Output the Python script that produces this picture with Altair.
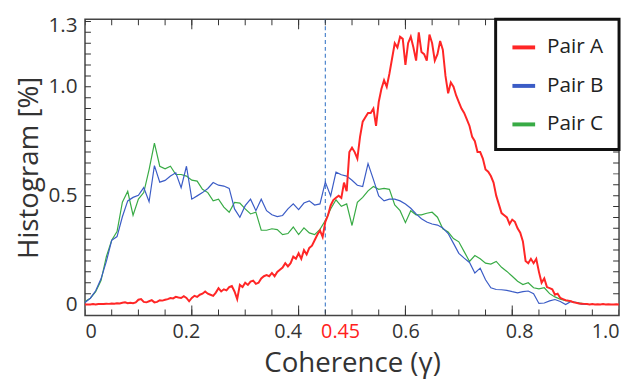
import altair as alt
import pandas as pd
import numpy as np

# ---------------- data ----------------
series = ["Pair A", "Pair B", "Pair C"]
colors = ["#ff2626", "#3b5cc6", "#38ab45"]

# Pair B and Pair C sampled every 0.01 in coherence (0 .. 1.0)
bc_step = 0.01
pair_b = [
    0.009, 0.029, 0.063, 0.118, 0.198, 0.295, 0.312, 0.403, 0.476, 0.492,
    0.502, 0.537, 0.472, 0.638, 0.562, 0.570, 0.590, 0.605, 0.537, 0.635,
    0.484, 0.499, 0.514, 0.533, 0.560, 0.548, 0.544, 0.533, 0.439, 0.401,
    0.454, 0.484, 0.431, 0.484, 0.431, 0.412, 0.404, 0.409, 0.439, 0.462,
    0.436, 0.466, 0.476, 0.457, 0.462, 0.562, 0.499, 0.608, 0.596, 0.590,
    0.571, 0.548, 0.542, 0.647, 0.575, 0.499, 0.476, 0.484, 0.484, 0.476,
    0.462, 0.442, 0.416, 0.394, 0.379, 0.370, 0.365, 0.352, 0.326, 0.281,
    0.235, 0.213, 0.193, 0.145, 0.167, 0.114, 0.077, 0.069, 0.068, 0.065,
    0.059, 0.054, 0.059, 0.062, 0.050, 0.005, 0.007, 0.017, 0.023, 0.014,
    0.000, 0.014, 0.009, 0.002, 0.000, 0.000, 0.000, 0.000, 0.000, 0.000, 0.000,
]
pair_c = [
    0.014, 0.029, 0.059, 0.110, 0.220, 0.295, 0.335, 0.470, 0.520, 0.410,
    0.484, 0.514, 0.620, 0.741, 0.635, 0.623, 0.635, 0.597, 0.597, 0.590,
    0.571, 0.567, 0.529, 0.514, 0.476, 0.484, 0.447, 0.424, 0.469, 0.466,
    0.439, 0.416, 0.424, 0.341, 0.341, 0.348, 0.344, 0.321, 0.326, 0.356,
    0.321, 0.352, 0.329, 0.321, 0.345, 0.386, 0.439, 0.481, 0.451, 0.462,
    0.363, 0.469, 0.492, 0.522, 0.542, 0.529, 0.533, 0.529, 0.457, 0.431,
    0.376, 0.431, 0.412, 0.412, 0.419, 0.424, 0.401, 0.348, 0.333, 0.303,
    0.288, 0.243, 0.198, 0.225, 0.210, 0.190, 0.186, 0.198, 0.171, 0.152,
    0.130, 0.107, 0.092, 0.100, 0.077, 0.072, 0.077, 0.050, 0.035, 0.024,
    0.018, 0.014, 0.009, 0.005, 0.000, 0.000, 0.000, 0.000, 0.000, 0.000, 0.000,
]

# Pair A sampled every 0.005 in coherence (0 .. 1.0)
a_step = 0.005
pair_a = [
    0.0, 0.0, 0.0, 0.002, 0.0, 0.002, 0.003, 0.002, 0.004, 0.003,
    0.005, 0.004, 0.006, 0.005, 0.008, 0.01, 0.006, 0.008, 0.006, 0.01,
    0.022, 0.025, 0.012, 0.01, 0.015, 0.02, 0.01, 0.012, 0.02, 0.018,
    0.022, 0.025, 0.03, 0.028, 0.035, 0.032, 0.03, 0.038, 0.03, 0.015,
    0.03, 0.04, 0.035, 0.045, 0.05, 0.06, 0.05, 0.045, 0.04, 0.055,
    0.075, 0.06, 0.07, 0.065, 0.08, 0.085, 0.06, 0.025, 0.09, 0.08,
    0.1, 0.09, 0.105, 0.11, 0.095, 0.1, 0.12, 0.13, 0.135, 0.13,
    0.145, 0.13, 0.15, 0.16, 0.17, 0.19, 0.175, 0.19, 0.22, 0.21,
    0.235, 0.21, 0.25, 0.23, 0.26, 0.27, 0.295, 0.32, 0.34, 0.31,
    0.38, 0.41, 0.455, 0.48, 0.49, 0.5, 0.49, 0.56, 0.52, 0.7,
    0.72, 0.7, 0.67, 0.77, 0.84, 0.86, 0.88, 0.88, 0.9, 0.82,
    0.93, 0.99, 1.03, 1.0, 1.06, 1.13, 1.2, 1.18, 1.23, 1.22,
    1.1, 1.2, 1.23, 1.18, 1.12, 1.25, 1.16, 1.15, 1.12, 1.24,
    1.2, 1.12, 1.15, 1.21, 1.17, 1.05, 0.97, 1.02, 1.0, 0.96,
    0.93, 0.9, 0.88, 0.85, 0.82, 0.77, 0.75, 0.7, 0.7, 0.67,
    0.62, 0.61, 0.59, 0.56, 0.5, 0.46, 0.42, 0.41, 0.4, 0.37,
    0.39, 0.38, 0.35, 0.33, 0.29, 0.2, 0.19, 0.21, 0.19, 0.21,
    0.15, 0.1, 0.12, 0.08, 0.075, 0.07, 0.045, 0.05, 0.03, 0.025,
    0.02, 0.018, 0.015, 0.01, 0.008, 0.005, 0.004, 0.003, 0.002, 0.0,
    0.002, 0.0, 0.001, 0.0, 0.002, 0.0, 0.001, 0.0, 0.0, 0.001, 0.0,
]

threshold = [0.45]
x_label_values = [0, 0.2, 0.4, 0.45, 0.6, 0.8, 1.0]
y_label_values = [0, 0.5, 1.0, 1.3]
x_minor_ticks = [round(i * 0.05, 2) for i in range(21)]
x_major_ticks = [0.2, 0.4, 0.6, 0.8]
y_minor_ticks = [round(i * 0.05, 2) for i in range(27)]

# ---------------- tables ----------------
df_a = pd.DataFrame({"x": np.round(np.arange(len(pair_a)) * a_step, 4), "y": pair_a, "series": "Pair A"})
df_b = pd.DataFrame({"x": np.round(np.arange(len(pair_b)) * bc_step, 4), "y": pair_b, "series": "Pair B"})
df_c = pd.DataFrame({"x": np.round(np.arange(len(pair_c)) * bc_step, 4), "y": pair_c, "series": "Pair C"})
df_bc = pd.concat([df_c, df_b], ignore_index=True)
df_thr = pd.DataFrame({"x": threshold})
df_xminor = pd.DataFrame({"v": x_minor_ticks})
df_xmajor = pd.DataFrame({"v": x_major_ticks})
df_yminor = pd.DataFrame({"v": y_minor_ticks})

W, H = 541, 300
TICK, TICK_MAJOR = 6, 10
FONT = "Open Sans"
TXT = "#333333"
TICK_COLOR = "#333333"

xs = alt.Scale(domain=[0, 1.0], nice=False, zero=False)
ys = alt.Scale(domain=[-0.05, 1.31], nice=False, zero=False)
cs = alt.Scale(domain=series, range=colors)

x_main_axis = alt.Axis(
    values=x_label_values,
    labelExpr="datum.value == 0 ? '0' : (abs(datum.value - 0.45) < 0.001 ? '0.45' : format(datum.value, '.1f'))",
    labelFlush=True,
    labelOverlap=False,
    ticks=False,
    domain=False,
    grid=False,
    labelFontSize=20,
    labelPadding=6,
    labelColor={"condition": {"test": "abs(datum.value - 0.45) < 0.001", "value": "#ff2020"}, "value": TXT},
    labelOffset={"condition": [
        {"test": "abs(datum.value - 0.4) < 0.001", "value": -11},
        {"test": "abs(datum.value - 0.45) < 0.001", "value": 15},
        {"test": "abs(datum.value - 0.2) < 0.001", "value": -6},
        {"test": "abs(datum.value - 0.8) < 0.001", "value": 7},
    ], "value": 0},
    title="Coherence (γ)",
    titleFontSize=28,
    titlePadding=9,
)
y_main_axis = alt.Axis(
    values=y_label_values,
    labelExpr="datum.value == 0 ? '0' : format(datum.value, '.1f')",
    labelOffset={"condition": {"test": "datum.value > 1.2", "value": 4}, "value": 0},
    ticks=False,
    domain=False,
    grid=False,
    labelFontSize=21,
    labelPadding=8,
    title="Histogram [%]",
    titleFontSize=28,
    titlePadding=5,
)

rule = alt.Chart(df_thr).mark_rule(color="#3b78c8", strokeDash=[4, 3], strokeWidth=1.1).encode(
    x=alt.X("x:Q", scale=xs, axis=None)
)

bc = alt.Chart(df_bc).mark_line(strokeWidth=1.2).encode(
    x=alt.X("x:Q", scale=xs, axis=x_main_axis),
    y=alt.Y("y:Q", scale=ys, axis=y_main_axis),
    color=alt.Color("series:N", scale=cs, legend=alt.Legend(title=None)),
    detail="series:N",
)

red = alt.Chart(df_a).mark_line(strokeWidth=2).encode(
    x=alt.X("x:Q", scale=xs, axis=None),
    y=alt.Y("y:Q", scale=ys, axis=None),
    color=alt.Color("series:N", scale=cs, legend=alt.Legend(title=None)),
)

# inward ticks on all four sides of the frame (ticks centred on the frame, clipped to the plot)
def xticks(df, length, top):
    return alt.Chart(df).mark_tick(color=TICK_COLOR, thickness=1, size=2 * length, clip=True, opacity=1).encode(
        x=alt.X("v:Q", scale=xs, axis=None),
        y=alt.value(0 if top else H),
    )

def yticks(df, length, left):
    return alt.Chart(df).mark_tick(color=TICK_COLOR, thickness=1, size=2 * length, clip=True, opacity=1).encode(
        y=alt.Y("v:Q", scale=ys, axis=None),
        x=alt.value(0 if left else W),
    )

tick_layers = [
    xticks(df_xminor, TICK, True), xticks(df_xminor, TICK, False),
    xticks(df_xmajor, TICK_MAJOR, True), xticks(df_xmajor, TICK_MAJOR, False),
    yticks(df_yminor, TICK, True), yticks(df_yminor, TICK, False),
]

chart = alt.layer(rule, *tick_layers, bc, red).resolve_axis(
    x="independent", y="independent"
).properties(
    width=W,
    height=H,
    autosize=alt.AutoSizeParams(type="none"),
    padding={"left": 78, "top": 9, "right": 3, "bottom": 63},
    background="white",
).configure_view(
    stroke="#444444", strokeWidth=1.5
).configure_axis(
    labelFont=FONT, titleFont=FONT, labelColor=TXT, titleColor=TXT, titleFontWeight="normal"
).configure_legend(
    orient="top-right", offset=0, strokeColor="#111111", strokeWidth=3, fillColor="white",
    padding=15, labelFont=FONT, labelFontSize=21, labelColor="#222222",
    symbolType="stroke", symbolSize=529, symbolStrokeWidth=4, rowPadding=15, labelOffset=10,
)

chart.save("out.html", embed_options={"renderer": "svg", "actions": False})
